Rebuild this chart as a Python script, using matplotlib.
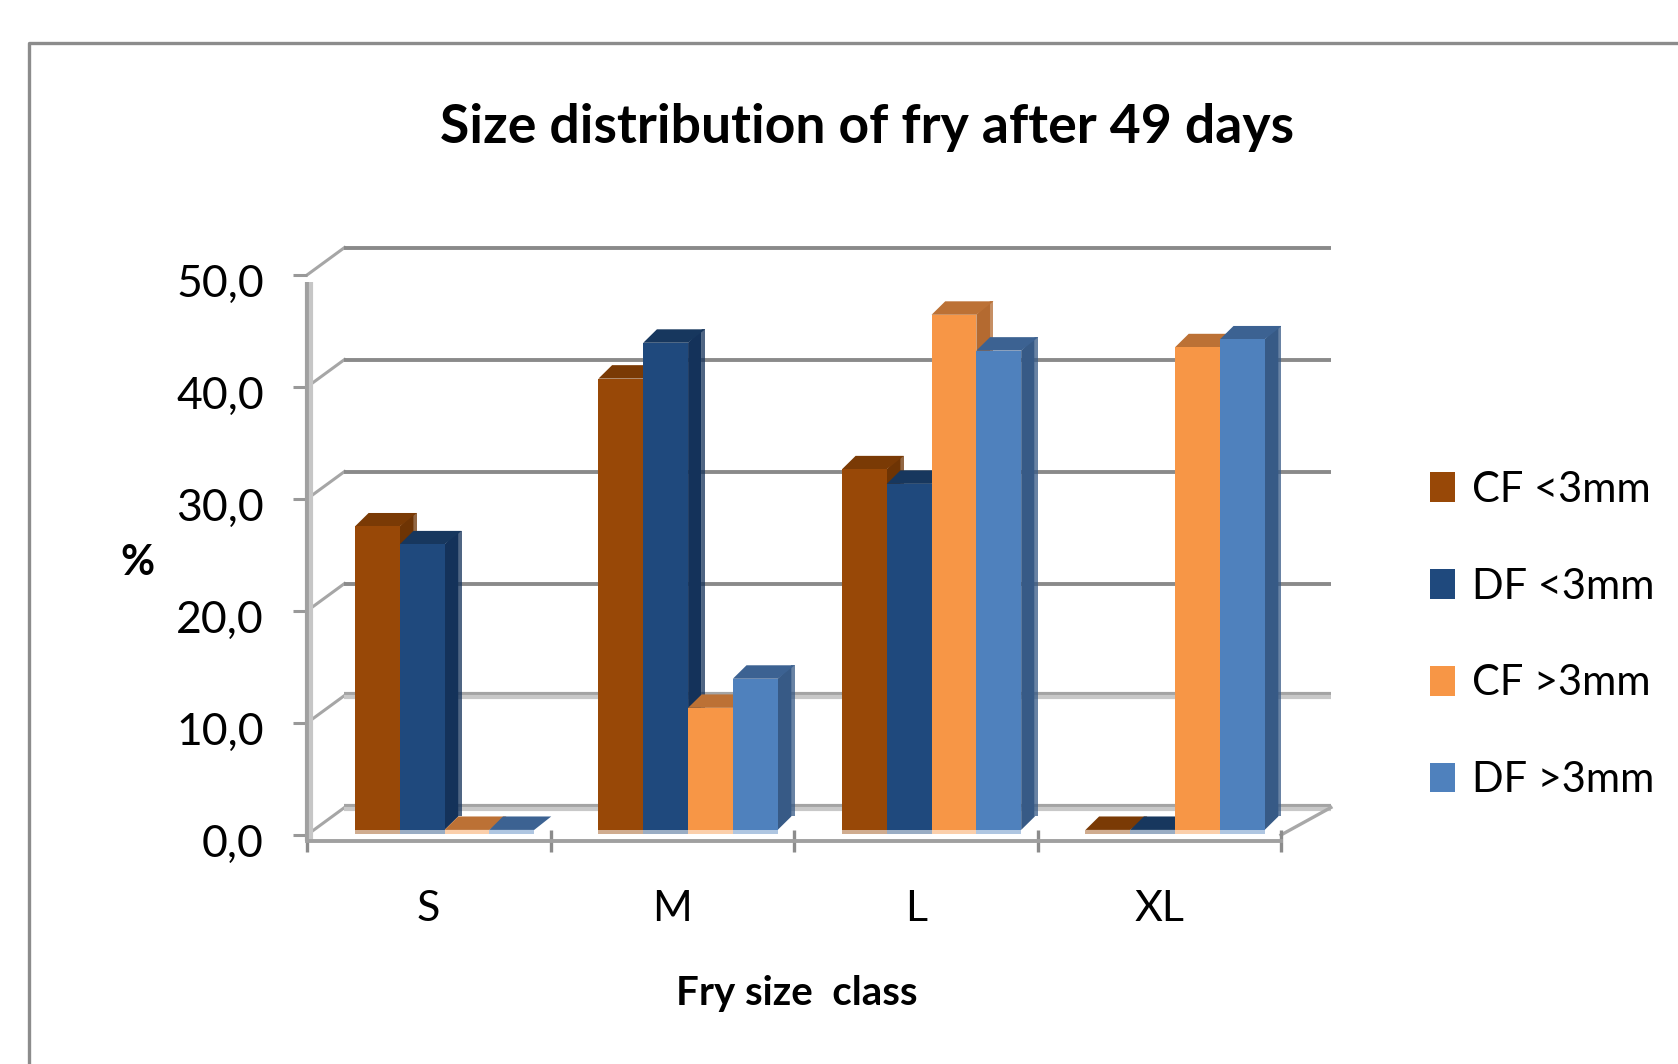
# size distribution of fry, fake 3D bars like the Excel original
import numpy as np
import matplotlib
matplotlib.use('Agg')
import matplotlib.pyplot as plt
from matplotlib.lines import Line2D
from matplotlib.transforms import ScaledTranslation

plt.rcParams['font.family'] = ['Lato', 'DejaVu Sans']

# data
categories = ['S', 'M', 'L', 'XL']
cf_small = [27.1, 40.3, 32.2, 0.0]
df_small = [25.5, 43.5, 30.9, 0.0]
cf_large = [0.0, 10.9, 46.0, 43.1]
df_large = [0.0, 13.5, 42.8, 43.8]
y_ticks = [0, 10, 20, 30, 40, 50]
y_labels = ['0,0', '10,0', '20,0', '30,0', '40,0', '50,0']
names = ['CF <3mm', 'DF <3mm', 'CF >3mm', 'DF >3mm']

series = [cf_small, df_small, cf_large, df_large]
front_col = ['#984807', '#1F497D', '#F79646', '#4F81BD']
top_col = ['#7A3A05', '#17375E', '#BC7135', '#3C6292']
side_col = ['#6E3404', '#14325A', '#B46A30', '#375A86']

W, H = 1678, 1064
fig = plt.figure(figsize=(W / 100, H / 100), dpi=100, facecolor='white')
ax = fig.add_axes([307 / W, 1 - 841 / H, 974 / W, 566 / H])
ax.set_xlim(-0.5, 3.5)
ax.set_ylim(-0.54, 50)

# depth of the back wall and of the bars, in data units
wall_left, wall_right = 0.154, 0.205
wall_dy = 2.45
bar_dx, bar_dy = 0.056, 1.2
edge_dx = 0.014
base = 0.45
width = 0.184
shift = 0.065

# outer chart frame, cut off by the image on the right and bottom
fig.add_artist(Line2D([29 / W, 29 / W, 1], [0, 1 - 43 / H, 1 - 43 / H], color='#8c8c8c', lw=2.4))

# back wall grid lines and the slanted bits on the side wall
for v in y_ticks:
    soft = v in (0, 10)
    ax.plot([-0.5, -0.5 + wall_left], [v, v + wall_dy], color='#a6a6a6', lw=2.2, clip_on=False, zorder=1)
    if soft:
        ax.plot([-0.5 + wall_left, 3.5 + wall_right], [v + wall_dy + 0.12] * 2, color='#a4a4a4', lw=3, clip_on=False, zorder=1, solid_capstyle='butt')
        ax.plot([-0.5 + wall_left, 3.5 + wall_right], [v + wall_dy - 0.12] * 2, color='#c8c8c8', lw=3, clip_on=False, zorder=1, solid_capstyle='butt')
    else:
        ax.plot([-0.5 + wall_left, 3.5 + wall_right], [v + wall_dy] * 2, color='#8a8a8a', lw=2.8, clip_on=False, zorder=1, solid_capstyle='butt')

# right edge of the floor
ax.plot([3.5, 3.5 + wall_right], [0, wall_dy], color='#a8a8a8', lw=2.4, clip_on=False, zorder=1)

# left wall, two tone
ax.plot([-0.5, -0.5], [-0.54, 49.4], color='#a0a0a0', lw=3, clip_on=False, zorder=2, solid_capstyle='butt')
ax.plot([-0.5 + 0.018, -0.5 + 0.018], [-0.54, 49.4], color='#c6c6c6', lw=3, clip_on=False, zorder=2, solid_capstyle='butt')

# bars, left to right so each one hides the side of the previous one
handles = []
for j, vals in enumerate(series):
    x = np.arange(len(categories)) + (j - 1.5) * width + shift
    z = 3 + j * 0.1
    for xi, v in zip(x, vals):
        left, right = xi - width / 2, xi + width / 2
        top = base + v
        # paler outer strip of the side face
        ax.fill([right + bar_dx, right + bar_dx + edge_dx, right + bar_dx + edge_dx, right + bar_dx],
                [base + bar_dy, base + bar_dy, top + bar_dy, top + bar_dy],
                color=side_col[j], alpha=0.75, lw=0, zorder=z)
        ax.fill([right, right + bar_dx, right + bar_dx, right],
                [base, base + bar_dy, top + bar_dy, top],
                color=side_col[j], lw=0, zorder=z)
        ax.fill([left, left + bar_dx, right + bar_dx + edge_dx, right],
                [top, top + bar_dy, top + bar_dy, top],
                color=top_col[j], lw=0, zorder=z)
    b = ax.bar(x, vals, width, bottom=base, color=front_col[j], lw=0, zorder=z + 0.01, label=names[j])
    ax.bar(x, -0.4, width, bottom=base, color=front_col[j], alpha=0.45, lw=0, zorder=z + 0.01)
    handles.append(b)

# axes
for s in ['top', 'right', 'left']:
    ax.spines[s].set_visible(False)
ax.spines['bottom'].set_color('#a0a0a0')
ax.spines['bottom'].set_linewidth(2.8)

ax.set_yticks(y_ticks)
ax.set_yticklabels(y_labels)
ax.tick_params(axis='y', length=10, width=2.2, color='#999999', pad=21, labelsize=32)
# labels sit a little under their ticks in the original
for lab in ax.get_yticklabels():
    lab.set_transform(lab.get_transform() + ScaledTranslation(0, -5 / 100, fig.dpi_scale_trans))

ax.set_xticks(np.arange(len(categories) + 1) - 0.5)
ax.set_xticklabels([])
ax.set_xticks(np.arange(len(categories)), minor=True)
ax.set_xticklabels(categories, minor=True)
ax.tick_params(axis='x', which='major', direction='inout', length=16, width=2.4, color='#8c8c8c')
ax.tick_params(axis='x', which='minor', length=0, pad=35, labelsize=31)

fig.text(867 / W, 1 - 127 / H, 'Size distribution of fry after 49 days', ha='center', va='center', fontsize=38.5, fontweight='bold')
fig.text(797 / W, 1 - 994 / H, 'Fry size  class', ha='center', va='center', fontsize=29, fontweight='bold')
fig.text(137 / W, 1 - 563 / H, '%', ha='center', va='center', fontsize=30, fontweight='bold')

fig.legend(handles=handles, labels=names, loc='center left', bbox_to_anchor=(1430 / W, 1 - 635 / H),
           frameon=False, fontsize=30, handlelength=0.6, handleheight=0.72, handletextpad=0.4,
           labelspacing=1.41, borderpad=0, borderaxespad=0)

fig.savefig('out.png', dpi=100)
